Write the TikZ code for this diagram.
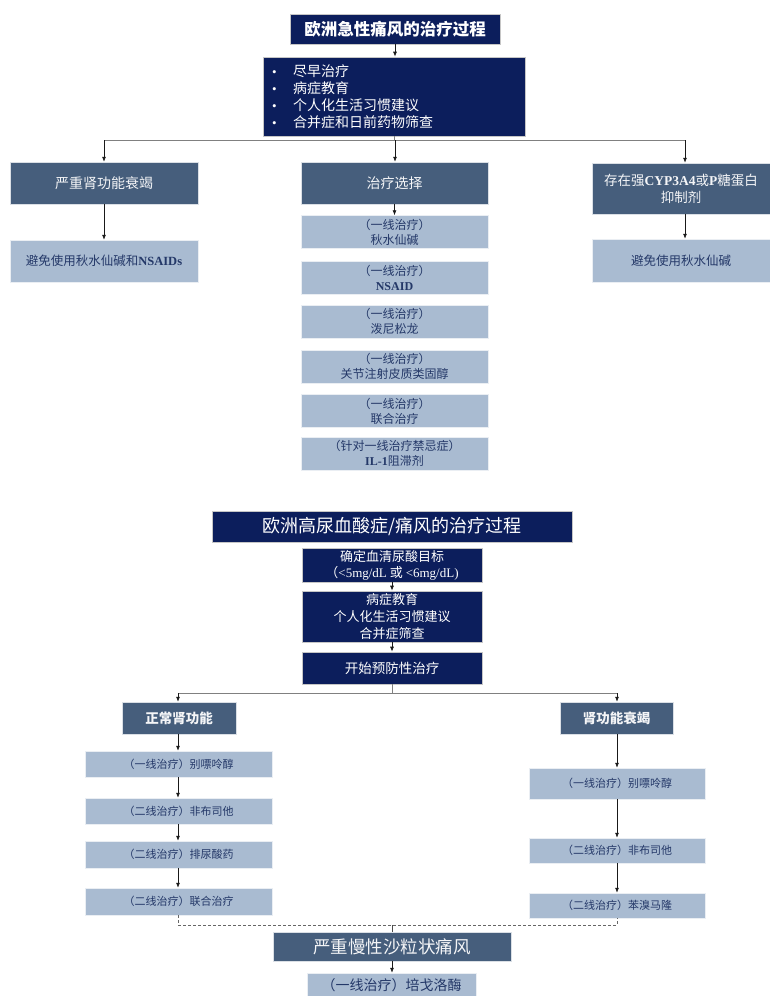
\documentclass[tikz,border=0pt]{standalone}
\usepackage{fontspec}
\setmainfont{Noto Sans CJK SC}
\newfontfamily\lat{Liberation Serif}
\usetikzlibrary{arrows.meta}
\definecolor{navy}{RGB}{12,30,92}
\definecolor{slate}{RGB}{70,94,124}
\definecolor{lightbg}{RGB}{169,187,209}
\definecolor{lighttext}{RGB}{36,56,104}
\definecolor{busgray}{RGB}{128,128,128}
\newcommand{\bul}{\makebox[21pt][l]{{\lat\fontsize{13}{17}\selectfont •}}}
\begin{document}
\begin{tikzpicture}[x=1pt,y=-1pt,
  navybox/.style={fill=navy, draw=gray!45, line width=0.6pt, text=white, inner sep=0pt, align=center},
  slatebox/.style={fill=slate, draw=white!80!slate, line width=0.4pt, text=white!94!slate, inner sep=0pt, align=center},
  lightbox/.style={fill=lightbg, draw=white!75!lightbg, line width=0.4pt, text=lighttext, inner sep=0pt, align=center},
  arr/.style={-{Latex[length=5pt,width=4pt]}, line width=0.75pt, draw=black!90},
  bus/.style={draw=busgray, line width=0.9pt},
  dashline/.style={draw=black!60, line width=0.7pt, dash pattern=on 3pt off 2pt},
  midtext/.style={font=\fontsize{12}{15}\selectfont},
  smalltext/.style={font=\fontsize{11}{13}\selectfont}]
\useasboundingbox (0,0) rectangle (770,996);

% ---------- acute gout ----------
\node[navybox, minimum width=210pt, minimum height=30pt, font=\fontsize{16.5}{18}\selectfont\bfseries] (t1) at (395,29) {欧洲急性痛风的治疗过程};
\node[navybox, minimum width=262pt, minimum height=79pt, text width=244pt, align=left, font=\fontsize{14}{17}\selectfont] (b1) at (394,96.5)
  {\bul 尽早治疗\\\bul 病症教育\\\bul 个人化生活习惯建议\\\bul 合并症和日前药物筛查};

\node[slatebox, minimum width=188pt, minimum height=42pt, font=\fontsize{14}{16}\selectfont] (L1) at (104,183) {严重肾功能衰竭};
\node[lightbox, minimum width=188pt, minimum height=42pt, font=\fontsize{12.5}{15}\selectfont] (L2) at (104,261) {避免使用秋水仙碱和{\lat\bfseries NSAIDs}};

\node[slatebox, minimum width=187pt, minimum height=42pt, font=\fontsize{14}{16}\selectfont] (M1) at (394.5,183) {治疗选择};
\node[lightbox, midtext, minimum width=187pt, minimum height=33pt] (M2) at (394.5,232) {（一线治疗）\\秋水仙碱};
\node[lightbox, midtext, minimum width=187pt, minimum height=33pt] (M3) at (394.5,277.5) {（一线治疗）\\{\lat\bfseries NSAID}};
\node[lightbox, midtext, minimum width=187pt, minimum height=33pt] (M4) at (394.5,321.5) {（一线治疗）\\泼尼松龙};
\node[lightbox, midtext, minimum width=187pt, minimum height=33pt] (M5) at (394.5,366.5) {（一线治疗）\\关节注射皮质类固醇};
\node[lightbox, midtext, minimum width=187pt, minimum height=33pt] (M6) at (394.5,411) {（一线治疗）\\联合治疗};
\node[lightbox, midtext, minimum width=187pt, minimum height=33pt] (M7) at (394.5,453.5) {（针对一线治疗禁忌症）\\{\lat\bfseries IL-1}阻滞剂};

\node[slatebox, minimum width=178pt, minimum height=51pt, font=\fontsize{13.5}{17}\selectfont] (R1) at (681,188.5) {存在强{\lat\bfseries CYP3A4}或{\lat\bfseries P}糖蛋白\\抑制剂};
\node[lightbox, minimum width=178pt, minimum height=43pt, font=\fontsize{12.5}{15}\selectfont] (R2) at (681,260.5) {避免使用秋水仙碱};

\coordinate (busL) at (104,140);
\coordinate (busM) at (395,140);
\coordinate (busR) at (685,140);
\draw[arr] (t1.south) -- (t1.south |- b1.north);
\draw[bus] (b1.south) -- (b1.south |- busM);
\draw[bus] (busL) -- (busR);
\draw[arr] (busL) -- (L1.north);
\draw[arr] (busM) -- (busM |- M1.north);
\draw[arr] (busR) -- (busR |- R1.north);
\draw[arr] (L1.south) -- (L2.north);
\draw[arr] (M1.south) -- (M2.north);
\draw[arr] (busR |- R1.south) -- (busR |- R2.north);

% ---------- hyperuricaemia / gout ----------
\node[navybox, minimum width=360pt, minimum height=31pt, font=\fontsize{18}{20}\selectfont] (t2) at (392,526.5) {欧洲高尿血酸症/痛风的治疗过程};
\node[navybox, minimum width=180pt, minimum height=34pt, font=\fontsize{13}{16}\selectfont] (B1) at (392,565) {确定血清尿酸目标\\（{\lat <5mg/dL} 或 {\lat <6mg/dL)}};
\node[navybox, minimum width=180pt, minimum height=51pt, font=\fontsize{13}{17}\selectfont] (B2) at (392,616.5) {病症教育\\个人化生活习惯建议\\合并症筛查};
\node[navybox, minimum width=180pt, minimum height=32pt, font=\fontsize{13.5}{16}\selectfont] (B3) at (392,668) {开始预防性治疗};
\draw[arr] (B1.south) -- (B2.north);
\draw[arr] (B2.south) -- (B3.north);

\node[slatebox, minimum width=114pt, minimum height=32pt, font=\fontsize{13.5}{16}\selectfont\bfseries] (NL1) at (179,718) {正常肾功能};
\node[lightbox, smalltext, minimum width=187pt, minimum height=26pt] (NL2) at (178.5,764) {（一线治疗）别嘌呤醇};
\node[lightbox, smalltext, minimum width=187pt, minimum height=26pt] (NL3) at (178.5,811) {（二线治疗）非布司他};
\node[lightbox, smalltext, minimum width=187pt, minimum height=27pt] (NL4) at (178.5,854.5) {（二线治疗）排尿酸药};
\node[lightbox, smalltext, minimum width=187pt, minimum height=27pt] (NL5) at (178.5,901.5) {（二线治疗）联合治疗};

\node[slatebox, minimum width=113pt, minimum height=32pt, font=\fontsize{13.5}{16}\selectfont\bfseries] (NR1) at (616.5,718) {肾功能衰竭};
\node[lightbox, smalltext, minimum width=176pt, minimum height=31pt] (NR2) at (617,783.5) {（一线治疗）别嘌呤醇};
\node[lightbox, smalltext, minimum width=176pt, minimum height=25pt] (NR3) at (617,850.5) {（二线治疗）非布司他};
\node[lightbox, smalltext, minimum width=176pt, minimum height=25pt] (NR4) at (617,905.5) {（二线治疗）苯溴马隆};

\coordinate (bus2L) at (178,693);
\coordinate (bus2R) at (617,693);
\draw[bus] (B3.south) -- (B3.south |- bus2L);
\draw[bus] (bus2L) -- (bus2R);
\draw[arr] (bus2L) -- (bus2L |- NL1.north);
\draw[arr] (bus2R) -- (bus2R |- NR1.north);
\draw[arr] (bus2L |- NL1.south) -- (bus2L |- NL2.north);
\draw[arr] (bus2L |- NL2.south) -- (bus2L |- NL3.north);
\draw[arr] (bus2L |- NL3.south) -- (bus2L |- NL4.north);
\draw[arr] (bus2L |- NL4.south) -- (bus2L |- NL5.north);
\draw[arr] (bus2R |- NR1.south) -- (bus2R |- NR2.north);
\draw[arr] (bus2R |- NR2.south) -- (bus2R |- NR3.north);
\draw[arr] (bus2R |- NR3.south) -- (bus2R |- NR4.north);

\node[slatebox, minimum width=238pt, minimum height=29pt, font=\fontsize{17.5}{20}\selectfont] (S1) at (392,946.5) {严重慢性沙粒状痛风};
\node[lightbox, minimum width=169pt, minimum height=24pt, font=\fontsize{14}{16}\selectfont] (S2) at (391.5,985) {（一线治疗）培戈洛酶};

\coordinate (dL) at (178,925);
\coordinate (dR) at (617,925);
\draw[dashline] (bus2L |- NL5.south) -- (dL) -- (dR) -- (bus2R |- NR4.south);
\draw[draw=black!70, line width=0.7pt] (S1.north |- dL) -- (S1.north);
\draw[arr] (S1.south) -- (S1.south |- S2.north);
\end{tikzpicture}
\end{document}
